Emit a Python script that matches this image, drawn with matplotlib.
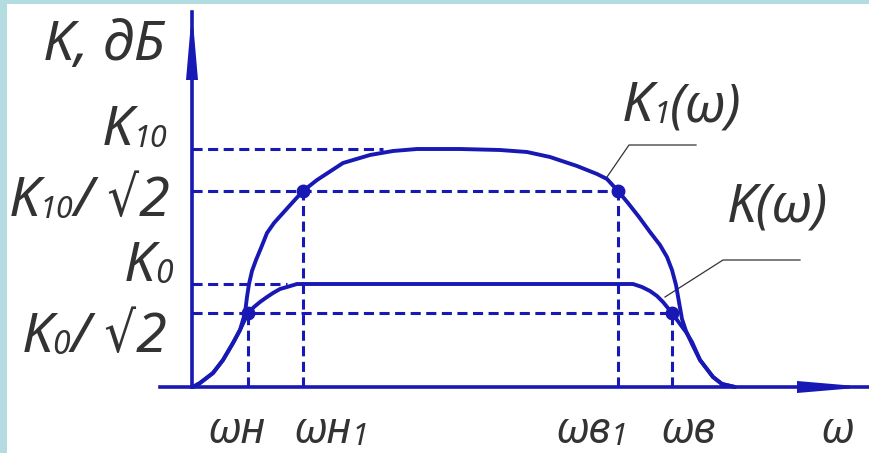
import matplotlib.pyplot as plt

plt.rcParams['font.family'] = ['Noto Sans', 'DejaVu Sans']
plt.rcParams['font.style'] = 'italic'
plt.rcParams['font.stretch'] = 'condensed'
plt.rcParams['font.weight'] = 'light'

BLUE = '#1818b4'
INK = '#333333'

# characteristic levels (gain) and frequencies
k10 = 2.38
k10_half = 1.96
k0 = 1.03
k0_half = 0.74
w_n = 0.56
w_n1 = 1.11
w_v1 = 4.26
w_v = 4.80

# K1(w) - wide band, higher gain
k1_w = [0.01, 0.08, 0.21, 0.31, 0.41, 0.48, 0.53, 0.55, 0.57, 0.60, 0.64, 0.69, 0.75,
        0.82, 0.91, 1.00, 1.11, 1.25, 1.51, 1.78, 2.01, 2.25, 2.68, 3.08, 3.35, 3.58,
        3.85, 4.05, 4.15, 4.26, 4.36, 4.47, 4.58, 4.68, 4.75, 4.80, 4.84, 4.87, 4.90,
        4.94, 5.00, 5.08, 5.21, 5.30, 5.43]
k1_val = [0.0, 0.04, 0.14, 0.27, 0.44, 0.57, 0.74, 0.90, 1.03, 1.16, 1.27, 1.39, 1.54,
          1.64, 1.74, 1.84, 1.96, 2.07, 2.24, 2.32, 2.36, 2.38, 2.38, 2.37, 2.35, 2.30,
          2.21, 2.13, 2.08, 1.96, 1.84, 1.70, 1.55, 1.42, 1.30, 1.17, 1.02, 0.85, 0.68,
          0.56, 0.43, 0.27, 0.10, 0.03, 0.0]

# K(w)
k_w = [0.01, 0.08, 0.21, 0.31, 0.41, 0.48, 0.56, 0.62, 0.68, 0.75, 0.81, 0.88, 0.95,
       1.05, 4.41, 4.50, 4.58, 4.65, 4.71, 4.80, 4.88, 4.94, 5.00, 5.08, 5.21, 5.30, 5.43]
k_val = [0.0, 0.04, 0.14, 0.27, 0.44, 0.57, 0.74, 0.80, 0.85, 0.90, 0.94, 0.98, 1.00,
         1.03, 1.03, 1.00, 0.96, 0.91, 0.85, 0.74, 0.63, 0.55, 0.45, 0.27, 0.10, 0.03, 0.0]

fig = plt.figure(figsize=(8.69, 4.53), dpi=100, facecolor='#b2dce0')
ax = fig.add_axes([7 / 869, 0, 862 / 869, 449 / 453])
ax.set_facecolor('white')
ax.set_xlim(-1.85, 6.77)
ax.set_ylim(-0.66, 3.83)
ax.set_xticks([])
ax.set_yticks([])
for s in ax.spines.values():
    s.set_visible(False)

dash = dict(color=BLUE, lw=2.2, linestyle=(0, (3.3, 1.8)), zorder=2)
# horizontal guides from the gain axis
ax.plot([0, 1.91], [k10, k10], **dash)
ax.plot([0, w_v1], [k10_half, k10_half], **dash)
ax.plot([0, 0.95], [k0, k0], **dash)
ax.plot([0, w_v], [k0_half, k0_half], **dash)
# vertical guides down to the frequency axis
ax.plot([w_n, w_n], [0, k0_half], **dash)
ax.plot([w_n1, w_n1], [0, k10_half], **dash)
ax.plot([w_v1, w_v1], [0, k10_half], **dash)
ax.plot([w_v, w_v], [0, k0_half], **dash)

curve = dict(color=BLUE, lw=2.8, solid_capstyle='round', solid_joinstyle='round', zorder=3)
ax.plot(k1_w, k1_val, **curve)
ax.plot(k_w, k_val, **curve)

ax.plot([w_n, w_n1, w_v1, w_v], [k0_half, k10_half, k10_half, k0_half], 'o',
        color=BLUE, ms=9, zorder=4)

# axes with long drafting arrows
ax.plot([0, 0], [0, 3.75], color=BLUE, lw=2.6, zorder=3)
ax.plot([-0.32, 6.77], [0, 0], color=BLUE, lw=2.6, zorder=3)
ax.fill([-0.06, 0.06, 0.015, -0.015], [3.07, 3.07, 3.59, 3.59], color=BLUE, lw=0, zorder=3)
ax.fill([6.05, 6.05, 6.58, 6.58], [-0.06, 0.06, 0.015, -0.015], color=BLUE, lw=0, zorder=3)


def label(x, y, parts, ha='left'):
    # parts: (text, size); small sizes are subscripts, set a bit lower
    seq = parts[::-1] if ha == 'right' else parts
    edge = 0 if ha == 'right' else 1
    prev = None
    for s, size in seq:
        dy = -1.5 if size < 25 else 0
        if prev is None:
            prev = ax.annotate(s, xy=(x, y), xytext=(0, dy), textcoords='offset points',
                               fontsize=size, ha=ha, va='baseline', color=INK)
        else:
            prev = ax.annotate(s, xy=(edge, y), xycoords=(prev, 'data'), xytext=(0, dy),
                               textcoords='offset points', fontsize=size, ha=ha,
                               va='baseline', color=INK)


label(-0.27, 3.27, [('K, дБ', 40)], ha='right')
label(-0.25, 2.42, [('K', 40), ('10', 22)], ha='right')
label(-0.22, 1.71, [('K', 40), ('10', 22), ('/ √2', 40)], ha='right')
label(-0.19, 1.06, [('K', 40), ('0', 23)], ha='right')
label(-0.25, 0.35, [('K', 40), ('0', 23), ('/ √2', 40)], ha='right')

label(0.15, -0.56, [('ωн', 31)])
label(1.01, -0.56, [('ωн', 31), ('1', 22)])
label(3.63, -0.56, [('ωв', 31), ('1', 22)])
label(4.68, -0.56, [('ωв', 31)])
label(6.28, -0.56, [('ω', 31)])

label(4.30, 2.66, [('K', 40), ('1', 22), ('(ω)', 38)])
label(5.35, 1.65, [('K(ω)', 38)])

# leaders from the curve labels
ax.plot([4.15, 4.37, 5.04], [2.10, 2.42, 2.42], color=INK, lw=0.9, zorder=2)
ax.plot([4.73, 5.31, 6.08], [0.90, 1.27, 1.27], color=INK, lw=0.9, zorder=2)

fig.savefig('out.png', dpi=100, facecolor=fig.get_facecolor())
